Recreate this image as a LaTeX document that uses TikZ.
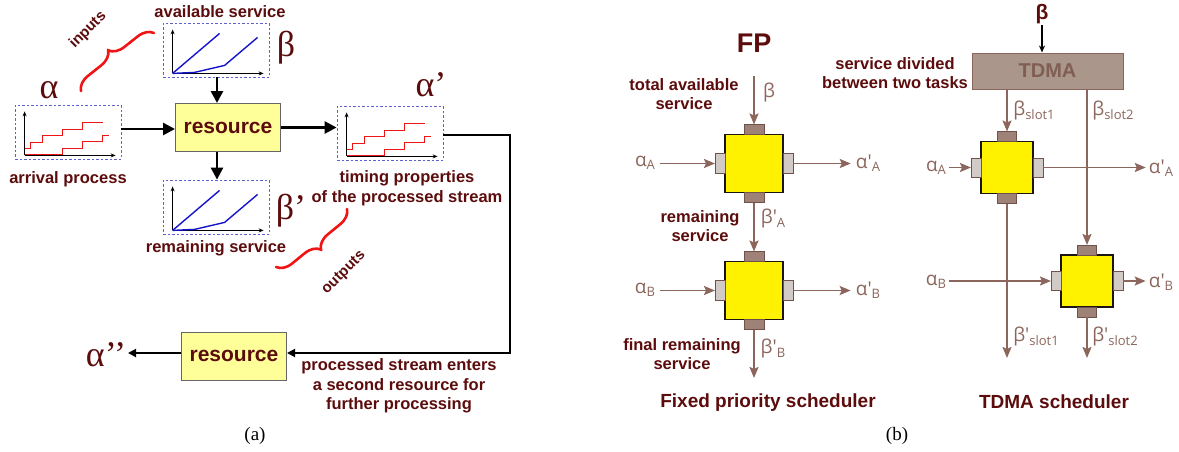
\documentclass[tikz,border=0pt]{standalone}
\usepackage{fontspec}
\setmainfont{Liberation Sans}
\newfontfamily\timesgk{Liberation Serif}
\newfontfamily\thingk{Open Sans}
\usepackage{tikz}
\usetikzlibrary{arrows.meta,decorations.pathreplacing,calc}

\definecolor{maroon}{RGB}{92,12,12}
\definecolor{rtcbrown}{RGB}{140,102,92}
\definecolor{tabdark}{RGB}{158,130,120}
\definecolor{tablight}{RGB}{210,202,198}
\definecolor{tdmafill}{RGB}{170,150,138}
\definecolor{tdmatext}{RGB}{128,94,84}
\definecolor{plotblue}{RGB}{96,96,204}
\definecolor{curveblue}{RGB}{20,20,205}
\definecolor{curvered}{RGB}{240,20,20}
\definecolor{resyellow}{RGB}{255,255,153}

\newcommand\fs[1]{\fontsize{#1}{#1}\selectfont}
\newcommand\lowsub[1]{\raisebox{-0.35ex}{\fs{13}#1}}

\tikzset{
  lbl/.style={text=maroon, font=\bfseries\fontsize{16.5}{19.5}\selectfont, align=center, inner sep=0pt},
  biggreek/.style={text=maroon, font=\timesgk\fs{36}, inner sep=0pt},
  gk/.style={text=rtcbrown, font=\thingk\fs{19}, inner sep=0pt},
  plotbox/.style={draw=plotblue, dash pattern=on 2.5pt off 2pt, line width=0.8pt,
    minimum width=106, minimum height=54, inner sep=0pt},
  resbox/.style={draw=black!60, fill=resyellow, line width=1pt, minimum width=105,
    minimum height=48, text=maroon, font=\bfseries\fs{21}},
  bigarrow/.style={line width=2.6pt, -{Triangle[length=12pt,width=12pt]}},
  thinarrow/.style={line width=1.8pt, -{Triangle[length=8pt,width=8pt]}},
  axis/.style={line width=1pt, -{Stealth[length=5pt,width=4pt]}},
  brc/.style={draw=curvered, line width=2.6pt, line cap=round,
    decorate, decoration={brace, amplitude=15pt}},
  flow/.style={draw=rtcbrown, line width=1.8pt, -{Stealth[length=11pt,width=9pt,inset=2pt]}},
  sqbox/.style={draw=black!80!rtcbrown, fill=yellow, line width=1.3pt, inner sep=0pt, outer sep=0pt},
  darktab/.style={draw=rtcbrown!80!black, fill=tabdark, line width=1pt, inner sep=0pt, outer sep=0pt},
  lighttab/.style={draw=rtcbrown!80!black, fill=tablight, line width=1pt, inner sep=0pt, outer sep=0pt},
}

% step curves of an event stream, drawn inside a plot box
\newcommand\arrivalplot[1]{%
  \begin{scope}[shift={(#1.south west)}]
    \draw[axis] (10,-4) -- (10,-48);
    \draw[axis] (10,-4) -- (101,-4);
    \draw[curvered, line width=1.6pt] (10,-11) -- (16,-11) -- (16,-17) -- (28,-17) -- (28,-24)
      -- (48,-24) -- (48,-30) -- (68,-30) -- (68,-37) -- (88,-37);
    \draw[curvered, line width=1.6pt] (10,-5) -- (48,-5) -- (48,-11) -- (68,-11) -- (68,-18)
      -- (88,-18) -- (88,-24) -- (94,-24);
  \end{scope}}
% upper and lower service curves
\newcommand\serviceplot[1]{%
  \begin{scope}[shift={(#1.south west)}]
    \draw[axis] (10,-4) -- (10,-48);
    \draw[axis] (10,-4) -- (101,-4);
    \draw[curveblue, line width=1.4pt] (10,-4) -- (57,-44);
    \draw[curveblue, line width=1.4pt] (10,-4) -- (32,-5) -- (62,-12) -- (95,-40);
  \end{scope}}

% square task block with its four ports
\newcommand\taskblock[4]{%
  \node[sqbox, minimum size=#3] (#1) at (#2) {};
  \node[darktab, minimum width=#4, minimum height=10, anchor=south] (#1-n) at (#1.north) {};
  \node[darktab, minimum width=#4, minimum height=10, anchor=north] (#1-s) at (#1.south) {};
  \node[lighttab, minimum width=10, minimum height=#4, anchor=east] (#1-w) at (#1.west) {};
  \node[lighttab, minimum width=10, minimum height=#4, anchor=west] (#1-e) at (#1.east) {};}

\begin{document}
\begin{tikzpicture}[x=1pt,y=-1pt]
    \useasboundingbox (0,0) rectangle (1179,451);

    %% (a) one resource in the real-time calculus
    \node[plotbox] (alphaIn) at (68,132) {};
    \node[plotbox] (betaIn) at (216,50) {};
    \node[plotbox] (betaOut) at (216,207) {};
    \node[plotbox] (alphaOut) at (390,133) {};
    \arrivalplot{alphaIn}
    \arrivalplot{alphaOut}
    \serviceplot{betaIn}
    \serviceplot{betaOut}

    \node[resbox] (res) at (228,127.5) {resource};
    \node[resbox] (res2) at (234,356) {resource};

    \node[biggreek] (alpha) at (49,90) {α};
    \node[biggreek] (beta) at (286,48) {β};
    \node[biggreek] (betap) at (291,211) {β’};
    \node[biggreek] (alphap) at (431,85) {α’};
    \node[biggreek] (alphapp) at (106,355) {α’’};

    \node[lbl] at (220,12) {available service};
    \node[lbl] at (68,179) {arrival process};
    \node[lbl] at (216,248) {remaining service};
    \node[lbl] at (407,188) {timing properties\\of the processed stream};
    \node[lbl] at (399,386) {processed stream enters\\a second resource for\\further processing};

    \draw[bigarrow] (alphaIn.east |- 0,129) -- (res.west |- 0,129);
    \draw[bigarrow] (betaIn.south -| 217,0) -- (res.north -| 217,0);
    \draw[bigarrow] (res.south -| 217,0) -- (betaOut.north -| 217,0);
    \draw[bigarrow] (res.east) -- (res.east -| alphaOut.west);
    \coordinate (bend) at (510,353);
    \draw[thinarrow] (alphaOut.east |- 0,135) -| (bend) -- (bend -| res2.east);
    \draw[thinarrow] (res2.west |- bend) -- (128,353);

    \draw[brc] (81,91) -- (154,33);
    \node[text=maroon, font=\bfseries\fs{15}, rotate=45] at (88,30) {inputs};
    \draw[brc] (347,209) -- (276,267);
    \node[text=maroon, font=\bfseries\fs{15}, rotate=45] at (344,273) {outputs};

    \node[font=\timesgk\fs{19}] at (255,436) {(a)};

    %% (b) fixed priority scheduling of two tasks
    \node[text=maroon, font=\bfseries\fs{27}] at (754,43) {FP};
    \taskblock{fpA}{754,163.5}{58}{20}
    \taskblock{fpB}{754,290.5}{58}{20}
    \coordinate (fpIn) at (754,76);
    \coordinate (fpOut) at (754,378);

    \node[gk, inner sep=5pt] (aA) at (645,163) {α\lowsub{A}};
    \node[gk, inner sep=5pt] (aAo) at (868,163) {α\textquotesingle\lowsub{A}};
    \node[gk, inner sep=5pt] (aB) at (645,290) {α\lowsub{B}};
    \node[gk, inner sep=5pt] (aBo) at (868,290) {α\textquotesingle\lowsub{B}};
    \node[gk] at (769,93) {β};
    \node[gk] at (773,219) {β\textquotesingle\lowsub{A}};
    \node[gk] at (773,349) {β\textquotesingle\lowsub{B}};

    \draw[flow] (fpIn) -- (fpA-n);
    \draw[flow] (fpA-s) -- (fpB-n);
    \draw[flow] (fpB-s) -- (fpOut);
    \draw[flow] (aA.east |- fpA-w) -- (fpA-w);
    \draw[flow] (fpA-e) -- (aAo.west |- fpA-e);
    \draw[flow] (aB.east |- fpB-w) -- (fpB-w);
    \draw[flow] (fpB-e) -- (aBo.west |- fpB-e);

    \node[lbl] at (684,94) {total available\\service};
    \node[lbl] at (700,226) {remaining\\service};
    \node[lbl] at (682,354) {final remaining\\service};
    \node[lbl, font=\bfseries\fs{19}] at (768,403) {Fixed priority scheduler};

    %% TDMA scheduling of the same two tasks
    \node[draw=rtcbrown, fill=tdmafill, line width=1pt, minimum width=151, minimum height=36,
      text=tdmatext, font=\bfseries\fs{20}] (tdma) at (1047.5,71) {TDMA};
    \node[text=maroon, font=\bfseries\fs{21}, inner sep=1pt] (tbeta) at (1042,14) {β};
    \draw[line width=1.2pt, -{Stealth[length=7pt,width=6pt]}] (tbeta.south) -- (tbeta.south |- tdma.north);
    \node[lbl] at (895,73) {service divided\\between two tasks};

    \taskblock{ta}{1007,167.5}{52}{19}
    \taskblock{tb}{1087,281}{52}{19}
    \coordinate (taOut) at (1007,358);
    \coordinate (tbOut) at (1087,358);

    \draw[flow] (tdma.south -| ta-n) -- (ta-n);
    \draw[flow] (tdma.south -| tb-n) -- (tb-n);
    \draw[flow] (ta-s) -- (taOut);
    \draw[flow] (tb-s) -- (tbOut);

    \node[gk, inner sep=3pt] (taIn) at (936,168) {α\lowsub{A}};
    \node[gk, inner sep=3pt] (taO) at (1161,168) {α\textquotesingle\lowsub{A}};
    \node[gk, inner sep=3pt] (tbIn) at (936,282) {α\lowsub{B}};
    \node[gk, inner sep=3pt] (tbO) at (1161,282) {α\textquotesingle\lowsub{B}};
    \draw[flow] (taIn.east |- ta-w) -- (ta-w);
    \draw[flow] (ta-e) -- (taO.west |- ta-e);
    \draw[flow] (tbIn.east |- tb-w) -- (tb-w);
    \draw[flow] (tb-e) -- (tbO.west |- tb-e);

    \node[gk] at (1034,111) {β\lowsub{slot1}};
    \node[gk] at (1113,111) {β\lowsub{slot2}};
    \node[gk] at (1036,337) {β\textquotesingle\lowsub{slot1}};
    \node[gk] at (1115,337) {β\textquotesingle\lowsub{slot2}};
    \node[lbl, font=\bfseries\fs{19}] at (1054,402) {TDMA scheduler};

    \node[font=\timesgk\fs{19}] at (897,436) {(b)};

    \end{tikzpicture}
\end{document}
